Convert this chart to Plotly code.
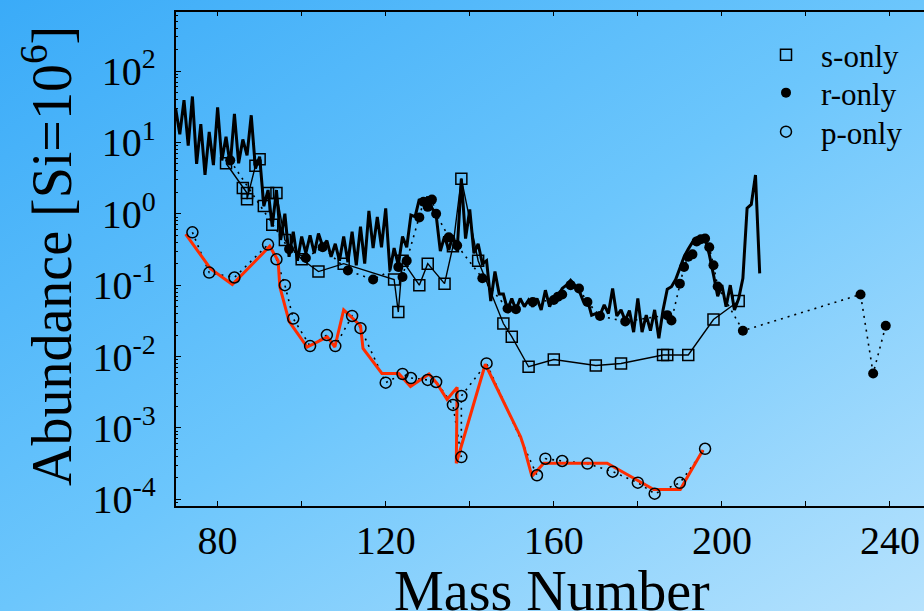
import base64
import plotly.graph_objects as go

# ---------------- data ----------------
zig_A = list(range(70, 210))
zig_val = [30, 13, 39, 9, 44, 5, 18, 3.5, 14, 4.8,
           31, 5.6, 12, 4.8, 25, 5.1, 11, 6.6, 24, 4.3,
           6.3, 1.28, 2.15, 0.66, 2.15, 0.43, 1.0, 0.25, 0.56, 0.22,
           0.48, 0.28, 0.5, 0.28, 0.53, 0.35, 0.42, 0.25, 0.38, 0.22,
           0.48, 0.21, 0.56, 0.19, 0.66, 0.2, 1.1, 0.33, 0.9, 0.34,
           1.19, 0.16, 0.33, 0.19, 0.48, 0.34, 0.96, 0.91, 1.6, 1.4,
           1.73, 1.2, 0.96, 0.3, 0.48, 0.31, 0.5, 0.3, 3.1, 0.45,
           1.15, 0.28, 0.38, 0.2, 0.22, 0.06, 0.155, 0.075, 0.075, 0.045,
           0.065, 0.045, 0.065, 0.05, 0.062, 0.05, 0.065, 0.045, 0.085, 0.05,
           0.069, 0.07, 0.09, 0.1, 0.117, 0.1, 0.085, 0.06, 0.062, 0.038,
           0.04, 0.038, 0.053, 0.04, 0.09, 0.037, 0.045, 0.032, 0.044, 0.022,
           0.065, 0.022, 0.038, 0.023, 0.045, 0.018, 0.045, 0.088, 0.095, 0.12,
           0.18, 0.25, 0.32, 0.4, 0.46, 0.48, 0.45, 0.27, 0.14, 0.07,
           0.1, 0.05, 0.1, 0.045, 0.065, 0.125, 1.2, 1.35, 3.5, 0.146]

s_A = [82, 86, 87, 87, 89, 90, 91, 92, 93, 94, 96, 100, 104, 110, 122, 123,
       124, 128, 130, 134, 136, 138, 142, 148, 150, 154, 160, 170, 176, 186,
       187, 192, 198, 204]
s_val = [5.1, 2.3, 1.95, 1.6, 4.7, 5.8, 1.28, 1.95, 0.7, 1.95, 0.43, 0.23,
         0.155, 0.2, 0.12, 0.042, 0.22, 0.1, 0.2, 0.105, 0.35, 3.1, 0.22,
         0.029, 0.019, 0.0072, 0.0091, 0.0075, 0.008, 0.0105, 0.0105, 0.0105,
         0.033, 0.06]

r_A = [83, 97, 101, 105, 111, 117, 123, 124, 125, 128, 129, 130, 131, 132,
       135, 137, 143, 149, 151, 155, 160, 161, 162, 164, 166, 168, 171, 177,
       187, 188, 190, 191, 192, 193, 194, 195, 196, 197, 198, 199, 205, 233,
       236, 239]
r_val = [5.6, 0.32, 0.24, 0.34, 0.16, 0.12, 0.18, 0.13, 0.22, 0.89, 1.47,
         1.25, 1.58, 1.0, 0.47, 0.36, 0.125, 0.047, 0.046, 0.058, 0.062,
         0.069, 0.074, 0.1, 0.09, 0.058, 0.037, 0.031, 0.038, 0.032, 0.105,
         0.18, 0.25, 0.27, 0.41, 0.44, 0.45, 0.34, 0.19, 0.096, 0.023, 0.074,
         0.0058, 0.027]

p_A = [74, 78, 84, 92, 94, 96, 98, 102, 106, 108, 112, 114, 120, 124, 126,
       130, 132, 136, 138, 138, 144, 156, 158, 162, 168, 174, 180, 184, 190,
       196]
p_val = [0.55, 0.15, 0.128, 0.37, 0.23, 0.1, 0.034, 0.014, 0.020, 0.014,
         0.037, 0.025, 0.0043, 0.0057, 0.0050, 0.0047, 0.0044, 0.0021,
         0.00039, 0.0028, 0.008, 0.000217, 0.00037, 0.000344, 0.000316,
         0.000244, 0.000171, 0.00012, 0.00017, 0.00051]

model_A = [72.4, 78.3, 83.5, 92.4, 94.4, 94.8, 97.0, 101.3, 106.1, 107.9,
           110.0, 112.8, 114.0, 114.6, 119.1, 123.1, 125.9, 130.3, 132.2,
           134.6, 137.0, 136.8, 143.7, 152.1, 152.9, 154.8, 157.6, 172.7,
           183.8, 190.1, 195.5]
model_val = [0.52, 0.17, 0.102, 0.35, 0.22, 0.095, 0.031, 0.0136, 0.0188,
             0.0136, 0.045, 0.032, 0.027, 0.013, 0.0058, 0.0058, 0.0038,
             0.0057, 0.0042, 0.0025, 0.0037, 0.00032, 0.0078, 0.00075,
             0.00054, 0.00021, 0.00032, 0.00032, 0.000137, 0.000137, 0.00049]

x_ticks = [80, 120, 160, 200, 240]
x_ticktext = ["80", "120", "160", "200", "240"]
x_minor = [100, 140, 180, 220]
y_ticks = [1e-4, 1e-3, 1e-2, 1e-1, 1e0, 1e1, 1e2]
y_ticktext = ["10<sup>-4</sup>", "10<sup>-3</sup>", "10<sup>-2</sup>",
              "10<sup>-1</sup>", "10<sup>0</sup>", "10<sup>1</sup>",
              "10<sup>2</sup>"]
legend_names = ["s-only", "r-only", "p-only"]

# ---------------- styling ----------------
W, H = 924, 611
FONT = "Liberation Serif, Times New Roman, serif"
X0, X1, YT, YB = 175.6, 924.0, 11.7, 506.0

svg = f'''<svg xmlns="http://www.w3.org/2000/svg" width="{W}" height="{H}" viewBox="0 0 {W} {H}" preserveAspectRatio="none">
<defs><linearGradient id="g" x1="0" y1="0" x2="1" y2="1">
<stop offset="0" stop-color="#3aabf8"/>
<stop offset="0.5" stop-color="#6cc6fc"/>
<stop offset="1" stop-color="#b6e2fd"/>
</linearGradient></defs>
<rect x="0" y="0" width="{W}" height="{H}" fill="url(#g)"/></svg>'''
bg_src = "data:image/svg+xml;base64," + base64.b64encode(svg.encode()).decode()

fig = go.Figure()

fig.add_trace(go.Scatter(x=zig_A, y=zig_val, mode="lines",
                         line=dict(color="black", width=3), showlegend=False,
                         hoverinfo="skip"))
fig.add_trace(go.Scatter(x=s_A, y=s_val, mode="lines",
                         line=dict(color="black", width=1.4), showlegend=False))
fig.add_trace(go.Scatter(x=r_A, y=r_val, mode="lines",
                         line=dict(color="black", width=1.6, dash="2px,5px"),
                         showlegend=False))
fig.add_trace(go.Scatter(x=p_A, y=p_val, mode="lines",
                         line=dict(color="black", width=1.6, dash="2px,5px"),
                         showlegend=False))
fig.add_trace(go.Scatter(x=model_A, y=model_val, mode="lines",
                         line=dict(color="#ff2d00", width=3), showlegend=False))

fig.add_trace(go.Scatter(x=s_A, y=s_val, mode="markers", name=legend_names[0],
                         legend="legend",
                         marker=dict(symbol="square-open", size=11, color="black",
                                     line=dict(width=1.5, color="black"))))
fig.add_trace(go.Scatter(x=r_A, y=r_val, mode="markers", name=legend_names[1],
                         legend="legend2",
                         marker=dict(symbol="circle", size=10, color="black")))
fig.add_trace(go.Scatter(x=p_A, y=p_val, mode="markers", name=legend_names[2],
                         legend="legend3",
                         marker=dict(symbol="circle-open", size=11, color="black",
                                     line=dict(width=1.5, color="black"))))

minor_y = [k * 10.0 ** e for e in range(-5, 3) for k in range(2, 10)]


def leg(ypix):
    return dict(x=751 / W, y=1 - ypix / H, xanchor="left", yanchor="middle",
                bgcolor="rgba(0,0,0,0)", borderwidth=0,
                font=dict(family=FONT, size=31, color="black"), itemwidth=60)


fig.update_layout(
    width=W, height=H,
    margin=dict(l=0, r=0, t=0, b=0, pad=0),
    paper_bgcolor="#6cc6fc",
    plot_bgcolor="rgba(0,0,0,0)",
    font=dict(family=FONT, color="black"),
    images=[dict(source=bg_src, xref="paper", yref="paper", x=0, y=1,
                 sizex=1, sizey=1, sizing="stretch", xanchor="left",
                 yanchor="top", layer="below")],
    xaxis=dict(domain=[X0 / W, X1 / W], range=[70, 248.1],
               showgrid=False, zeroline=False, showline=True,
               linecolor="black", linewidth=1.5, mirror="ticks",
               ticks="inside", ticklen=5, tickwidth=1.2, tickcolor="black",
               tickvals=x_ticks, ticktext=x_ticktext,
               tickfont=dict(family=FONT, size=40, color="black"),
               ticklabelstandoff=-2, automargin=False,
               minor=dict(tickvals=x_minor, ticks="inside", ticklen=5,
                          tickcolor="black", tickwidth=1.2)),
    yaxis=dict(domain=[(H - YB) / H, (H - YT) / H], type="log",
               range=[-4.094, 2.831],
               showgrid=False, zeroline=False, showline=True,
               linecolor="black", linewidth=1.5, mirror=False,
               ticks="inside", ticklen=6, tickwidth=1.2, tickcolor="black",
               tickvals=y_ticks, ticktext=y_ticktext,
               tickfont=dict(family=FONT, size=40, color="black"),
               ticklabelstandoff=10, automargin=False,
               minor=dict(tickvals=minor_y, ticks="inside", ticklen=3,
                          tickcolor="black", tickwidth=1)),
    legend=leg(55), legend2=leg(93), legend3=leg(132),
    annotations=[
        dict(text="Mass Number", xref="paper", yref="paper",
             x=552 / W, y=(H - 591) / H, xanchor="center", yanchor="middle",
             showarrow=False, font=dict(family=FONT, size=56, color="black")),
        dict(text="Abundance [Si=10<sup>6</sup>]", xref="paper", yref="paper",
             x=48 / W, y=(H - 256) / H, xanchor="center", yanchor="middle",
             textangle=-90, showarrow=False,
             font=dict(family=FONT, size=56, color="black")),
    ],
)

fig.write_html("out.html",
               config={"displayModeBar": False},
               post_script="document.body.style.margin='0';"
                           "document.body.style.overflow='hidden';")
